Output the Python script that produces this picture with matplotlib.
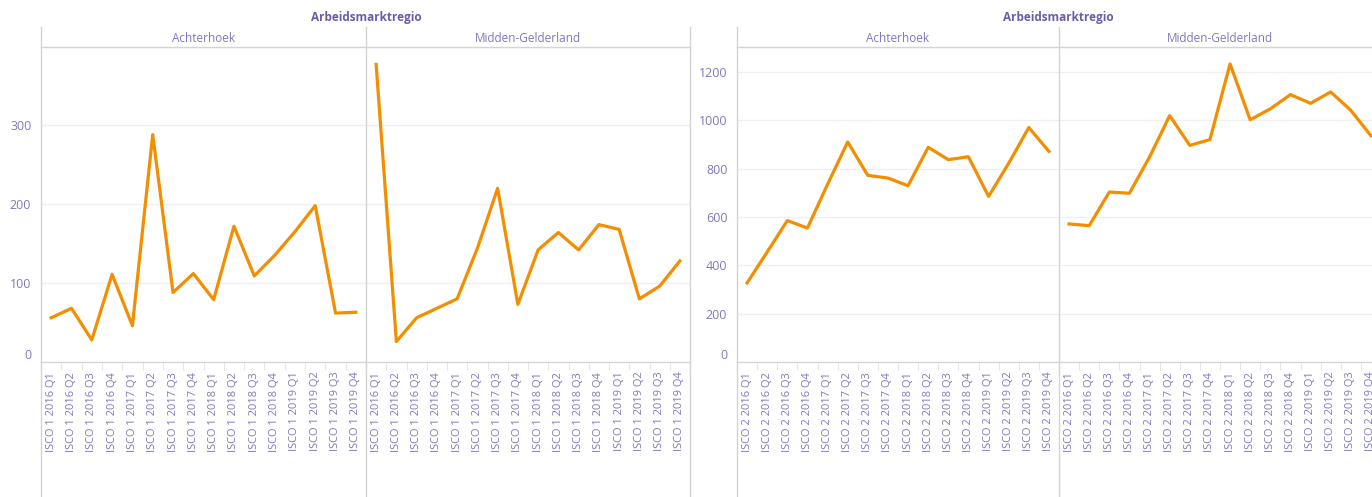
import numpy as np
import matplotlib.pyplot as plt
from matplotlib.lines import Line2D

plt.rcParams['font.family'] = ['Open Sans', 'DejaVu Sans']

# quarters on the x axis
quarters = ['2016 Q1', '2016 Q2', '2016 Q3', '2016 Q4',
            '2017 Q1', '2017 Q2', '2017 Q3', '2017 Q4',
            '2018 Q1', '2018 Q2', '2018 Q3', '2018 Q4',
            '2019 Q1', '2019 Q2', '2019 Q3', '2019 Q4']

regions = ['Achterhoek', 'Midden-Gelderland']

# ISCO 1 per region
isco1_achterhoek = [56, 68, 28, 111, 46, 288, 88, 112, 79, 172, 109, 135, 165, 198, 62, 63]
isco1_midden = [377, 26, 56, 68, 80, 144, 220, 73, 142, 164, 142, 174, 168, 80, 96, 128]

# ISCO 2 per region
isco2_achterhoek = [327, 455, 585, 554, 735, 910, 772, 761, 729, 888, 837, 849, 685, 822, 970, 871]
isco2_midden = [571, 564, 703, 698, 848, 1019, 896, 920, 1233, 1002, 1047, 1106, 1070, 1117, 1041, 936]

W, H = 1372, 497
orange = '#f28e00'
purple = '#7f79bb'
title_purple = '#665ea8'
divider = '#d4d4d4'


def fx(x):
    return x / W


def fy(y):
    return 1 - y / H


fig = plt.figure(figsize=(W / 100, H / 100), dpi=100)


def make_pane(x0, x1, values, isco, ymax, yticks, show_y):
    ax = fig.add_axes([fx(x0), fy(362), (x1 - x0) / W, 315 / H])
    ax.plot(range(len(values)), values, color=orange, lw=2.3, solid_joinstyle='round')
    ax.set_xlim(-0.5, len(values) - 0.5)
    ax.set_ylim(0, ymax)
    ax.set_xticks(range(len(quarters)))
    ax.set_xticklabels([f'ISCO {isco} {q}' for q in quarters], rotation=90,
                       fontsize=8, color=purple)
    ax.set_xticks(np.arange(-0.5, len(quarters), 1), minor=True)
    ax.tick_params(axis='x', which='major', length=0, pad=7)
    ax.tick_params(axis='x', which='minor', length=6, color='#e6e6e6', width=0.8)
    ax.set_yticks(yticks)
    if show_y:
        ax.set_yticklabels([str(t) for t in yticks], fontsize=9, color=purple)
        ax.get_yticklabels()[0].set_verticalalignment('bottom')
        ax.tick_params(axis='y', length=0, pad=7)
    else:
        ax.tick_params(axis='y', length=0, labelleft=False)
    ax.grid(axis='y', color='#efefef', lw=0.9)
    ax.set_axisbelow(True)
    for s in ['top', 'left', 'right']:
        ax.spines[s].set_visible(False)
    ax.spines['bottom'].set_color(divider)
    ax.spines['bottom'].set_linewidth(0.9)
    ax.patch.set_alpha(0)
    return ax


# left dashboard: ISCO 1
make_pane(41, 366, isco1_achterhoek, 1, 399, [0, 100, 200, 300], True)
make_pane(366, 690, isco1_midden, 1, 399, [0, 100, 200, 300], False)

# right dashboard: ISCO 2
make_pane(737, 1059, isco2_achterhoek, 2, 1303, [0, 200, 400, 600, 800, 1000, 1200], True)
make_pane(1059, 1381, isco2_midden, 2, 1303, [0, 200, 400, 600, 800, 1000, 1200], False)

# frame lines
for x in [41, 366, 690, 737, 1059]:
    fig.add_artist(Line2D([fx(x), fx(x)], [fy(27), 0], color=divider, lw=1.0))
for a, b in [(41, 690), (737, 1381)]:
    fig.add_artist(Line2D([fx(a), fx(b)], [fy(47), fy(47)], color=divider, lw=1.0))

# titles and pane headers
for cx in [366, 1058]:
    fig.text(fx(cx), fy(17), 'Arbeidsmarktregio', ha='center', va='center',
             fontsize=8.5, fontweight='bold', color=title_purple)
for (a, b) in [(41, 366), (366, 690), (737, 1059), (1059, 1381)]:
    name = regions[0] if a in (41, 737) else regions[1]
    fig.text(fx((a + b) / 2), fy(38), name, ha='center', va='center',
             fontsize=8.5, color=purple)

fig.savefig('out.png', dpi=100)
